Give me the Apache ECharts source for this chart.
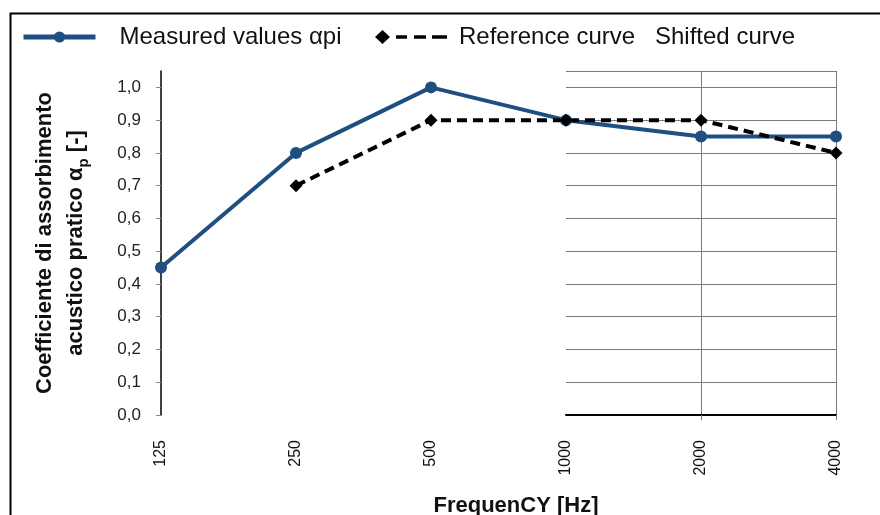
<!DOCTYPE html>
<html>
<head>
<meta charset="utf-8">
<script src="https://cdn.jsdelivr.net/npm/echarts@6/dist/echarts.min.js"></script>
<style>html,body{margin:0;padding:0;background:#fff}#c{width:880px;height:515px}</style>
</head>
<body>
<div id="c"></div>
<script>
var categories = ['125', '250', '500', '1000', '2000', '4000'];
var gridCategories = ['1000', '2000', '4000'];
var measured = [0.45, 0.80, 1.00, 0.90, 0.85, 0.85];
var reference = [null, 0.70, 0.90, 0.90, 0.90, 0.80];
var yTicks = [0, 0.1, 0.2, 0.3, 0.4, 0.5, 0.6, 0.7, 0.8, 0.9, 1.0];

var chart = echarts.init(document.getElementById('c'));
var fmt = function (v) { return v.toFixed(1).replace('.', ','); };
var refIcon = 'path://M0,7 L7.5,0 L15,7 L7.5,14 Z M21,5.3 L32,5.3 L32,8.7 L21,8.7 Z M39,5.3 L51,5.3 L51,8.7 L39,8.7 Z M57,5.3 L72,5.3 L72,8.7 L57,8.7 Z';
var legendText = { fontSize: 24, color: '#111', fontFamily: 'Liberation Sans' };

chart.setOption({
  animation: false,
  graphic: [{
    type: 'rect', left: 8, top: 11, silent: true,
    shape: { x: 0, y: 0, width: 900, height: 600 },
    style: { fill: 'none', stroke: '#000', lineWidth: 2 }
  }],
  legend: [
    { data: [{ name: 'Measured values αpi', lineStyle: { width: 5 } }], left: 16, top: 20, itemWidth: 72, itemHeight: 14,
      textStyle: Object.assign({ padding: [0, 0, 0, 19] }, legendText) },
    { data: [{ name: 'Reference curve', icon: refIcon, itemStyle: { color: '#000', borderWidth: 0 } }],
      left: 370, top: 20, itemWidth: 72, itemHeight: 14,
      textStyle: Object.assign({ padding: [0, 0, 0, 7] }, legendText) },
    { data: [{ name: 'Shifted curve', icon: 'none' }], left: 645, top: 20, itemWidth: 0, itemHeight: 14,
      textStyle: legendText }
  ],
  grid: [
    { left: 161, right: 44, top: 71, bottom: 100, outerBoundsMode: 'none', containLabel: false },
    { left: 566, right: 44, top: 71, bottom: 100, outerBoundsMode: 'none', containLabel: false }
  ],
  xAxis: [
    { type: 'category', gridIndex: 0, data: categories, boundaryGap: false,
      axisLine: { show: false }, axisTick: { show: false }, splitLine: { show: false },
      axisLabel: { rotate: 90, margin: 25, fontSize: 16, color: '#111', fontFamily: 'Liberation Sans' },
      name: 'FrequenCY [Hz]', nameLocation: 'middle', nameGap: 80,
      nameTextStyle: { fontSize: 22, fontWeight: 'bold', color: '#111', fontFamily: 'Liberation Sans', padding: [0, 0, 0, 35] } },
    { type: 'category', gridIndex: 1, data: gridCategories, boundaryGap: false,
      axisLine: { show: true, lineStyle: { color: '#000', width: 2 } },
      axisTick: { show: true, length: 5, interval: function (i) { return i > 0; }, lineStyle: { color: '#777' } },
      axisLabel: { show: false },
      splitLine: { show: true, interval: function (i) { return i > 0; }, lineStyle: { color: '#7a7a7a', width: 1 } } }
  ],
  yAxis: [
    { type: 'value', gridIndex: 0, min: 0, max: 1.05, interval: 0.1,
      axisLine: { show: true, lineStyle: { color: '#000', width: 1.5 } },
      axisTick: { show: true, length: 5, customValues: yTicks, lineStyle: { color: '#888' } },
      axisLabel: { customValues: yTicks, formatter: fmt, margin: 20, fontSize: 17, color: '#222', fontFamily: 'Liberation Sans' },
      splitLine: { show: false },
      name: '{b|Coefficiente di assorbimento}\n{b|acustico pratico α}{s|p}{b| [-]}',
      nameLocation: 'middle', nameGap: 70,
      nameTextStyle: { rich: {
        b: { fontSize: 22, fontWeight: 'bold', color: '#111', fontFamily: 'Liberation Sans', lineHeight: 31 },
        s: { fontSize: 15, fontWeight: 'bold', color: '#111', fontFamily: 'Liberation Sans', lineHeight: 31, verticalAlign: 'bottom', padding: [8, 0, 0, 0] }
      } } },
    { type: 'value', gridIndex: 1, min: 0, max: 1.05, interval: 0.1,
      axisLine: { show: false }, axisTick: { show: false }, axisLabel: { show: false },
      splitLine: { show: true, lineStyle: { color: '#7a7a7a', width: 1 } } }
  ],
  series: [
    { name: 'Measured values αpi', type: 'line', xAxisIndex: 0, yAxisIndex: 0, data: measured,
      symbol: 'circle', symbolSize: 12, lineStyle: { color: '#1F4E80', width: 4 },
      itemStyle: { color: '#1F4E80', borderWidth: 0 } },
    { name: 'Reference curve', type: 'line', xAxisIndex: 0, yAxisIndex: 0, data: reference,
      symbol: 'diamond', symbolSize: 13, lineStyle: { color: '#000', width: 4, type: [10, 6] },
      itemStyle: { color: '#000', borderWidth: 0 } },
    { name: 'Shifted curve', type: 'line', xAxisIndex: 0, yAxisIndex: 0, data: [] }
  ]
});
</script>
</body>
</html>
